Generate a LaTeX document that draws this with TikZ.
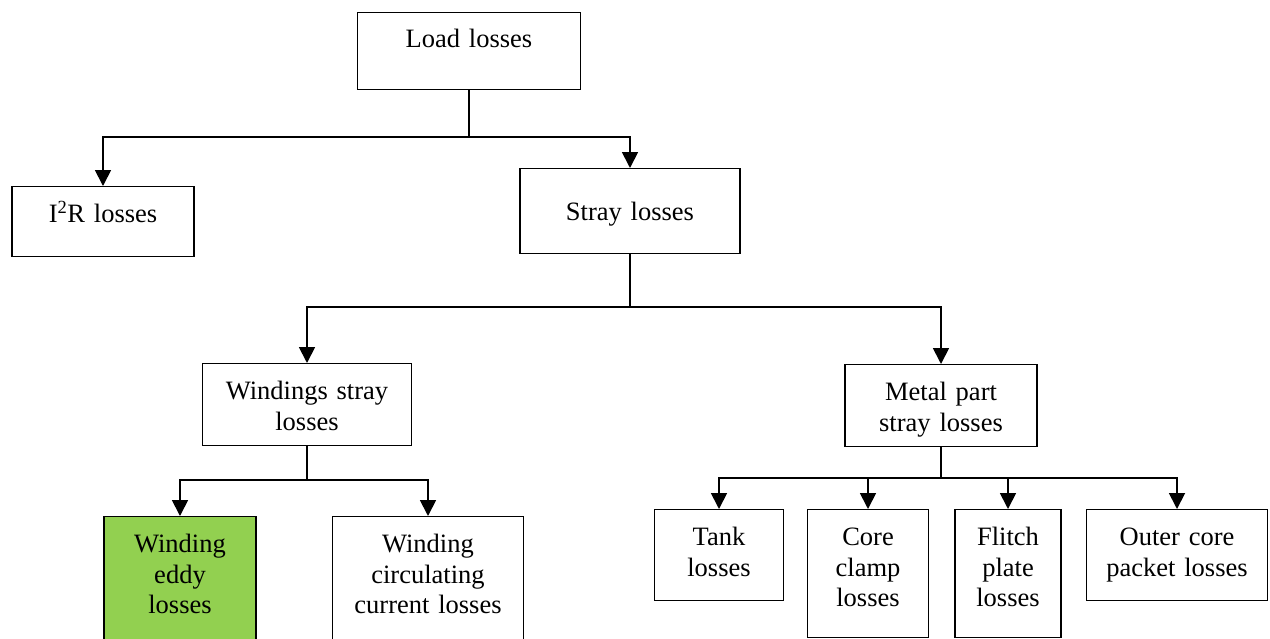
\documentclass[tikz,border=0pt]{standalone}
\usepackage{fontspec}
\setmainfont{Liberation Serif}
\usetikzlibrary{arrows.meta}
\definecolor{eddy}{HTML}{92D050}

\begin{document}
\begin{tikzpicture}[x=1pt,y=-1pt,
  box/.style={draw,line width=1.4pt,inner sep=0pt,anchor=north,align=center,
    text height=36pt,font=\fontsize{26.5}{30.5}\selectfont},
  link/.style={line width=1.8pt},
  arr/.style={link,-{Triangle[length=16pt,width=16pt]}}]
  \useasboundingbox (0,0) rectangle (1270,638);
  \clip (0,0) rectangle (1270,638);

  % top levels
  \node[box,text width=223pt,text height=35pt,text depth=42pt] (load) at (469,12) {Load losses};
  \node[box,text width=182pt,text depth=34pt] (i2r) at (103,186) {I\textsuperscript{2}R losses};
  \node[box,text width=220pt,text height=52pt,text depth=33pt] (stray) at (630,168) {Stray losses};
  \node[box,text width=209pt,text depth=46pt] (wind) at (307,363) {Windings stray\\losses};
  \node[box,text width=192pt,text depth=46pt] (metal) at (941,364) {Metal part\\stray losses};

  % winding stray parts
  \node[box,fill=eddy,text width=152pt,text depth=104pt] (eddyl) at (180,516) {Winding\\eddy\\losses};
  \node[box,text width=191pt,text depth=104pt] (circ) at (428,516) {Winding\\circulating\\current losses};

  % metal part stray parts
  \node[box,text width=129pt,text depth=55pt] (tank) at (719,509) {Tank\\losses};
  \node[box,text width=121pt,text depth=92pt] (clamp) at (868,509) {Core\\clamp\\losses};
  \node[box,text width=106pt,text depth=92pt] (flitch) at (1008,509) {Flitch\\plate\\losses};
  \node[box,text width=181pt,text depth=55pt] (outer) at (1177,509) {Outer core\\packet losses};

  % connectors
  \coordinate (j1) at (469,137);
  \draw[link] (load.south) -- (j1);
  \draw[arr] (j1) -| (i2r.north);
  \draw[arr] (j1) -| (stray.north);

  \coordinate (j2) at (630,307);
  \draw[link] (stray.south) -- (j2);
  \draw[arr] (j2) -| (wind.north);
  \draw[arr] (j2) -| (metal.north);

  \coordinate (j3) at (307,480);
  \draw[link] (wind.south) -- (j3);
  \foreach \n in {eddyl,circ}
    \draw[arr] (j3) -| (\n.north);

  \coordinate (j4) at (941,478);
  \draw[link] (metal.south) -- (j4);
  \foreach \n in {tank,clamp,flitch,outer}
    \draw[arr] (j4) -| (\n.north);
\end{tikzpicture}
\end{document}
